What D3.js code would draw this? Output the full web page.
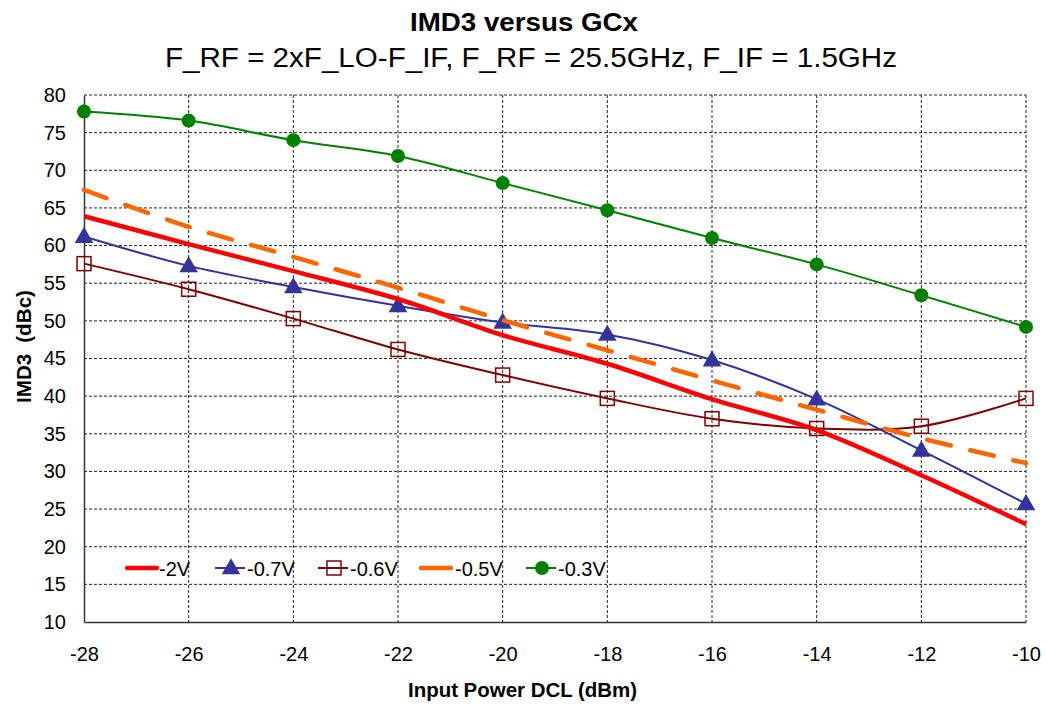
<!DOCTYPE html>
<html><head><meta charset="utf-8">
<script src="https://cdn.jsdelivr.net/npm/d3@7/dist/d3.min.js"></script>
<style>body{margin:0;background:#fff}text{font-family:"Liberation Sans",Arial,sans-serif}</style>
</head><body>
<svg id="c" width="1046" height="711"></svg>
<script>
const xValues = [-28,-26,-24,-22,-20,-18,-16,-14,-12,-10];
const xTicks = [-28,-26,-24,-22,-20,-18,-16,-14,-12,-10];
const yTicks = [10,15,20,25,30,35,40,45,50,55,60,65,70,75,80];
const sNames = ["-2V","-0.7V","-0.6V","-0.5V","-0.3V"];
const s2V  = [63.9,60.2,56.6,52.9,48.1,44.3,39.6,35.5,29.5,23.0];
const s07V = [61.2,57.3,54.5,52.0,49.8,48.2,44.8,39.6,32.8,25.7];
const s06V = [57.6,54.2,50.3,46.2,42.8,39.7,37.0,35.7,36.0,39.7];
const s05V = [67.4,62.5,58.5,54.4,50.1,46.1,42.1,38.2,34.4,31.1];
const s03V = [77.8,76.6,74.0,71.9,68.3,64.7,61.0,57.5,53.4,49.2];

const series = [
  {name:sNames[0], vals:s2V,  color:"#FF0000", w:4.5, dash:null, marker:"none"},
  {name:sNames[1], vals:s07V, color:"#333399", w:2, dash:null, marker:"tri"},
  {name:sNames[2], vals:s06V, color:"#800000", w:2, dash:null, marker:"sq"},
  {name:sNames[3], vals:s05V, color:"#FF6600", w:4.5, dash:"24,20", marker:"none"},
  {name:sNames[4], vals:s03V, color:"#008000", w:2, dash:null, marker:"circ"}
];

const L=84,R=1026,T=95,B=622;
const svg=d3.select("#c");
const x=d3.scaleLinear().domain([-28,-10]).range([L,R]);
const y=d3.scaleLinear().domain([10,80]).range([B,T]);
const fmt=d=>String(d);

// grid
const g=svg.append("g");
g.selectAll(".hg").data(yTicks.filter(v=>v>10)).join("line")
 .attr("x1",L).attr("x2",R).attr("y1",d=>y(d)).attr("y2",d=>y(d))
 .attr("stroke","#222").attr("stroke-width",1).attr("stroke-dasharray","3,2");
g.selectAll(".vg").data(xTicks.filter(v=>v>-28)).join("line")
 .attr("y1",T).attr("y2",B).attr("x1",d=>x(d)).attr("x2",d=>x(d))
 .attr("stroke","#222").attr("stroke-width",1).attr("stroke-dasharray","3,2");

// axes
const yAxis=d3.axisLeft(y).tickValues(yTicks).tickSize(0).tickPadding(18).tickFormat(fmt);
const ya=svg.append("g").attr("transform",`translate(${L},0)`).call(yAxis);
ya.select(".domain").attr("stroke","#333").attr("stroke-width",1.5);
ya.selectAll("text").attr("font-size",20).attr("fill","#000").attr("font-family","Liberation Sans, Arial, sans-serif");
const xAxis=d3.axisBottom(x).tickValues(xTicks).tickSize(0).tickPadding(25).tickFormat(fmt);
const xa=svg.append("g").attr("transform",`translate(0,${B})`).call(xAxis);
xa.select(".domain").attr("stroke","#333").attr("stroke-width",1.5);
xa.selectAll("text").attr("font-size",20).attr("fill","#000").attr("font-family","Liberation Sans, Arial, sans-serif");

// lines
const line=d3.line().x((d,i)=>x(xValues[i])).y(d=>y(d)).curve(d3.curveCatmullRom.alpha(0.5));
const tri=d3.symbol().type(d3.symbolTriangle).size(150);
function marker(sel,s,cx,cy){
  if(s.marker==="tri") sel.append("path").attr("d",tri).attr("transform",`translate(${cx},${cy+1})`).attr("fill",s.color);
  else if(s.marker==="sq") sel.append("rect").attr("x",cx-7).attr("y",cy-7).attr("width",14).attr("height",14).attr("fill","none").attr("stroke",s.color).attr("stroke-width",1.5);
  else if(s.marker==="circ") sel.append("circle").attr("cx",cx).attr("cy",cy).attr("r",7).attr("fill",s.color);
}
const drawOrder=[2,1,0,3,4];
drawOrder.forEach(k=>{
  const s=series[k];
  svg.append("path").attr("d",line(s.vals)).attr("fill","none").attr("stroke",s.color)
   .attr("stroke-width",s.w).attr("stroke-dasharray",s.dash).attr("stroke-linecap",s.dash?"round":"butt");
  const mg=svg.append("g");
  s.vals.forEach((v,i)=>marker(mg,s,x(xValues[i]),y(v)));
});

// legend
const legX=[127,215,318,421,526];
const lg=svg.append("g");
series.forEach((s,i)=>{
  const lx=legX[i], ly=568;
  lg.append("line").attr("x1",lx).attr("x2",lx+30).attr("y1",ly).attr("y2",ly)
    .attr("stroke",s.color).attr("stroke-width",s.w).attr("stroke-linecap",s.w>3?"round":"butt");
  marker(lg,s,lx+16,ly);
  lg.append("text").attr("x",lx+(i===3?34:32)).attr("y",ly+8).attr("font-size",20).text(s.name);
});

// titles
svg.append("text").attr("x",410).attr("y",31).attr("font-size",26).attr("font-weight","bold")
  .attr("textLength",228).attr("lengthAdjust","spacingAndGlyphs").text("IMD3 versus GCx");
svg.append("text").attr("x",165).attr("y",67).attr("font-size",27)
  .attr("textLength",732).attr("lengthAdjust","spacingAndGlyphs").text("F_RF = 2xF_LO-F_IF, F_RF = 25.5GHz, F_IF = 1.5GHz");
svg.append("text").attr("transform","translate(31,403) rotate(-90)").attr("font-size",20).attr("font-weight","bold")
  .attr("textLength",113).attr("lengthAdjust","spacingAndGlyphs").attr("word-spacing",5).text("IMD3 (dBc)");
svg.append("text").attr("x",408).attr("y",697).attr("font-size",21).attr("font-weight","bold")
  .attr("textLength",229).attr("lengthAdjust","spacingAndGlyphs").text("Input Power DCL (dBm)");
</script>
</body></html>
